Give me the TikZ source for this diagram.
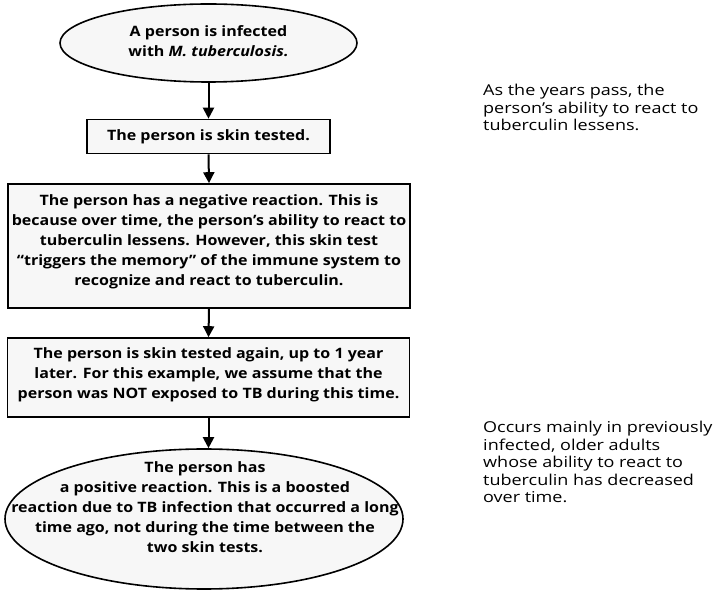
\documentclass[tikz,border=0pt]{standalone}
\usepackage{fontspec}
\setmainfont{Open Sans}
\newfontfamily\flowfont{Open Sans}[FakeStretch=1.12]
\newfontfamily\notefont{Open Sans}[FakeStretch=1.2]
\usetikzlibrary{shapes.geometric,arrows.meta}
\tikzset{
  flowbox/.style={draw=black, line width=1.6pt, fill=black!3, rectangle, inner sep=0pt},
  flowell/.style={draw=black, line width=1.6pt, fill=black!3, ellipse, inner sep=0pt},
  boldtxt/.style={font=\flowfont\fontsize{14.3}{20}\selectfont\bfseries, align=center, inner sep=0pt},
  sidetxt/.style={font=\notefont\fontsize{15}{17.6}\selectfont, align=left, anchor=north west, inner sep=0pt},
  flowarrow/.style={line width=2pt, -{Triangle[width=11pt,length=11pt]}}
}
\begin{document}
\begin{tikzpicture}[x=1pt,y=-1pt]
\useasboundingbox (0,0) rectangle (716,593);
% shapes
\node[flowell, minimum width=297, minimum height=78] (e1) at (208.5,43) {};
\node[boldtxt] (e1t) at (208.5,41) {A person is infected\\with \textit{M. tuberculosis.}};
\node[flowbox, minimum width=243, minimum height=34] (b2) at (208.5,136.5) {};
\node[boldtxt] (b2t) at (208.5,136.5) {The person is skin tested.};
\node[flowbox, minimum width=402, minimum height=124] (b3) at (209,246) {};
\node[boldtxt] (b3t) at (209,242) {The person has a negative reaction. This is\\because over time, the person’s ability to react to\\tuberculin lessens. However, this skin test\\“triggers the memory” of the immune system to\\recognize and react to tuberculin.};
\node[flowbox, minimum width=402, minimum height=79] (b4) at (208.5,377.5) {};
\node[boldtxt] (b4t) at (208.5,375) {The person is skin tested again, up to 1 year\\later. For this example, we assume that the\\person was NOT exposed to TB during this time.};
\node[flowell, minimum width=398, minimum height=140] (e5) at (204,519) {};
\node[boldtxt] (e5t) at (205,507) {The person has\\a positive reaction. This is a boosted\\reaction due to TB infection that occurred a long\\time ago, not during the time between the\\two skin tests.};
% arrows
\draw[flowarrow] (e1.south) -- (b2.north);
\draw[flowarrow] (b2.south) -- (b3.north);
\draw[flowarrow] (b3.south) -- (b4.north);
\draw[flowarrow] (b4.south) -- (b4.south |- e5.north);
% side notes
\node[sidetxt] (n1) at (483,84) {As the years pass, the\\person’s ability to react to\\tuberculin lessens.};
\node[sidetxt] (n2) at (483,421) {Occurs mainly in previously\\infected, older adults\\whose ability to react to\\tuberculin has decreased\\over time.};
\end{tikzpicture}
\end{document}
